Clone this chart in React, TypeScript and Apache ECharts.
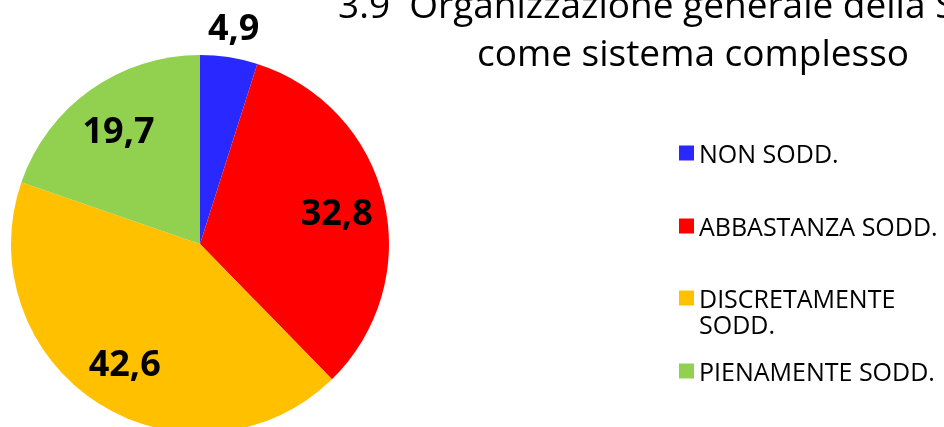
import React, { useEffect, useRef } from 'react';
import * as echarts from 'echarts';

const categories = ['NON SODD.', 'ABBASTANZA SODD.', 'DISCRETAMENTE SODD.', 'PIENAMENTE SODD.'];
const values = [4.9, 32.8, 42.6, 19.7];
const colors = ['#2828FF', '#FF0000', '#FFC000', '#92D050'];
const titleLines = ['3.9  Organizzazione generale della Scuola', 'come sistema complesso'];

export default function App() {
  const ref = useRef<HTMLDivElement>(null);
  useEffect(() => {
    const chart = echarts.init(ref.current!, null, { renderer: 'svg' });
    const fmt = (p: any) => Number(p.value).toFixed(1).replace('.', ',');
    const labelStyle = {
      show: true,
      position: 'inside',
      formatter: fmt,
      fontSize: 36,
      fontWeight: 'bold',
      color: '#000',
      fontFamily: 'Open Sans',
    };
    const center = [200, 244];
    const overlayBase = {
      type: 'pie',
      center,
      startAngle: 90,
      silent: true,
      avoidLabelOverlap: false,
      itemStyle: { color: 'transparent', borderWidth: 0 },
      labelLine: { show: false },
      emphasis: { disabled: true },
    };
    const legendText = { fontSize: 25, lineHeight: 26, color: '#000', fontFamily: 'Open Sans' };
    chart.setOption({
      animation: false,
      textStyle: { fontFamily: 'Open Sans' },
      title: {
        text: titleLines.join('\n'),
        left: 693,
        top: -21,
        padding: 0,
        textAlign: 'center',
        textStyle: { fontSize: 37, fontWeight: 'normal', lineHeight: 48, color: '#000', fontFamily: 'Open Sans' },
      },
      legend: [
        {
          orient: 'vertical',
          left: 679,
          top: 140,
          padding: 0,
          icon: 'rect',
          itemWidth: 15,
          itemHeight: 15,
          itemGap: 47,
          selectedMode: false,
          textStyle: legendText,
          data: [categories[0], categories[1]],
        },
        {
          orient: 'vertical',
          left: 679,
          top: 259,
          padding: 0,
          icon: 'rect',
          itemWidth: 15,
          itemHeight: 15,
          itemGap: 21,
          selectedMode: false,
          textStyle: legendText,
          formatter: (name: string) => (name === categories[2] ? '\n' + name : name),
          data: [
            { name: categories[2], textStyle: { width: 235, overflow: 'break' } },
            categories[3],
          ],
        },
      ],
      series: [
        {
          type: 'pie',
          center,
          radius: [0, 189],
          startAngle: 90,
          avoidLabelOverlap: false,
          label: { show: false },
          labelLine: { show: false },
          emphasis: { disabled: true },
          data: categories.map((name, i) => ({ name, value: values[i], itemStyle: { color: colors[i] } })),
        },
        {
          ...overlayBase,
          radius: [86, 189],
          label: labelStyle,
          data: categories.map((name, i) => ({ name, value: values[i], label: { show: i !== 0 } })),
        },
        {
          ...overlayBase,
          radius: [189, 245],
          label: labelStyle,
          data: categories.map((name, i) => ({ name, value: values[i], label: { show: i === 0 } })),
        },
      ],
    });
    return () => chart.dispose();
  }, []);
  return <div ref={ref} style={{ position: 'fixed', left: 0, top: 0, width: 944, height: 427 }} />;
}
